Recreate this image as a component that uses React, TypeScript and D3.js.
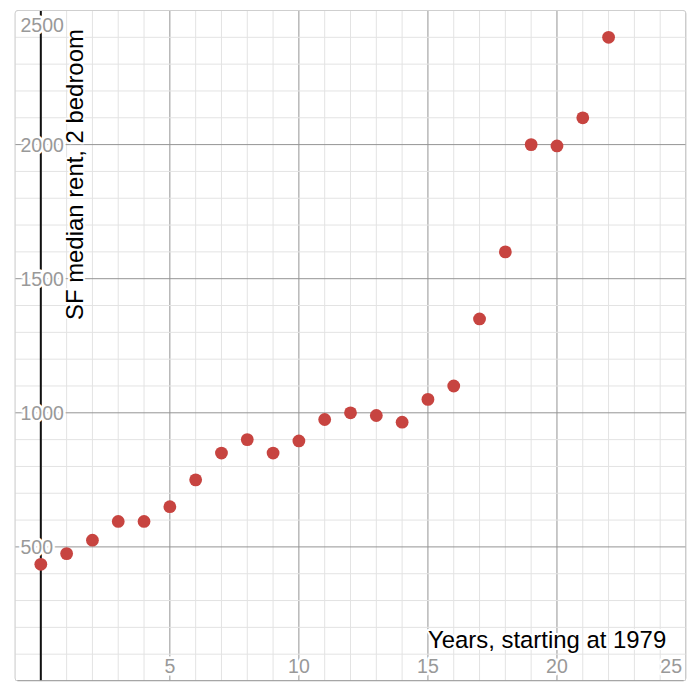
import React from "react";
import * as d3 from "d3";

const years: number[] = [0, 1, 2, 3, 4, 5, 6, 7, 8, 9, 10, 11, 12, 13, 14, 15, 16, 17, 18, 19, 20, 21, 22];
const rents: number[] = [435, 475, 525, 595, 595, 650, 750, 850, 900, 850, 895, 975, 1000, 990, 965, 1050, 1100, 1350, 1600, 2000, 1995, 2100, 2400];
const xTickValues: number[] = [5, 10, 15, 20, 25];
const yTickValues: number[] = [500, 1000, 1500, 2000, 2500];
const xLabel = "Years, starting at 1979";
const yLabel = "SF median rent, 2 bedroom";

const W = 697;
const H = 690;
const L = 15, T = 10.5, R = 686, B = 681;

export default function App() {
  const x = d3.scaleLinear().domain([-1, 25]).range([L, R]);
  const y = d3.scaleLinear().domain([0, 2500]).range([B, T]);
  const xMinor = d3.range(-1, 26, 1);
  const yMinor = d3.range(0, 2501, 100);
  const tickFont = "'Liberation Sans', Arial, sans-serif";
  return (
    <div style={{ position: "fixed", left: 0, top: 0, width: W, height: H, background: "#fff" }}>
      <svg width={W} height={H} style={{ display: "block" }}>
        <defs>
          <clipPath id="plot">
            <rect x={L} y={T} width={R - L} height={B - T} rx={3} />
          </clipPath>
        </defs>
        <rect x={L} y={T} width={R - L} height={B - T} rx={3} fill="#fff" />
        <g clipPath="url(#plot)">
          {xMinor.map((v) => (
            <line key={"xm" + v} x1={x(v)} x2={x(v)} y1={T} y2={B}
              stroke={v % 5 === 0 ? "#949494" : "#e3e3e3"} strokeWidth={1} />
          ))}
          {yMinor.map((v) => (
            <line key={"ym" + v} x1={L} x2={R} y1={y(v)} y2={y(v)}
              stroke={v % 500 === 0 ? "#949494" : "#e3e3e3"} strokeWidth={1} />
          ))}
          <line x1={x(0)} x2={x(0)} y1={T} y2={B} stroke="#111" strokeWidth={2} />
          <line x1={L} x2={R} y1={y(0)} y2={y(0)} stroke="#666" strokeWidth={1.5} />
        </g>
        {yTickValues.map((v) => (
          <text key={"yt" + v} x={L + 5.5} y={v === 2500 ? y(v) + 21 : y(v) + 7}
            fontFamily={tickFont} fontSize={19.5} fill="#999"
            stroke="#fff" strokeWidth={5} strokeLinejoin="round"
            style={{ paintOrder: "stroke" }}>
            {v}
          </text>
        ))}
        {xTickValues.map((v) => (
          <text key={"xt" + v} x={v === 25 ? R - 4 : x(v)} y={672.5}
            textAnchor={v === 25 ? "end" : "middle"}
            fontFamily={tickFont} fontSize={19.5} fill="#999"
            stroke="#fff" strokeWidth={5} strokeLinejoin="round"
            style={{ paintOrder: "stroke" }}>
            {v}
          </text>
        ))}
        {years.map((yr, i) => (
          <circle key={"p" + i} cx={x(yr)} cy={y(rents[i])} r={6.4} fill="#c74440" />
        ))}
        <text x={428} y={648} fontFamily={tickFont} fontSize={23.9} fill="#000"
          stroke="#fff" strokeWidth={4} strokeLinejoin="round" style={{ paintOrder: "stroke" }}>
          {xLabel}
        </text>
        <text transform={`translate(83,320) rotate(-90)`} fontFamily={tickFont} fontSize={23.9} fill="#000"
          stroke="#fff" strokeWidth={4} strokeLinejoin="round" style={{ paintOrder: "stroke" }}>
          {yLabel}
        </text>
        <rect x={L} y={T} width={R - L} height={B - T} rx={3} fill="none" stroke="#cfcfcf" strokeWidth={1} />
      </svg>
    </div>
  );
}
